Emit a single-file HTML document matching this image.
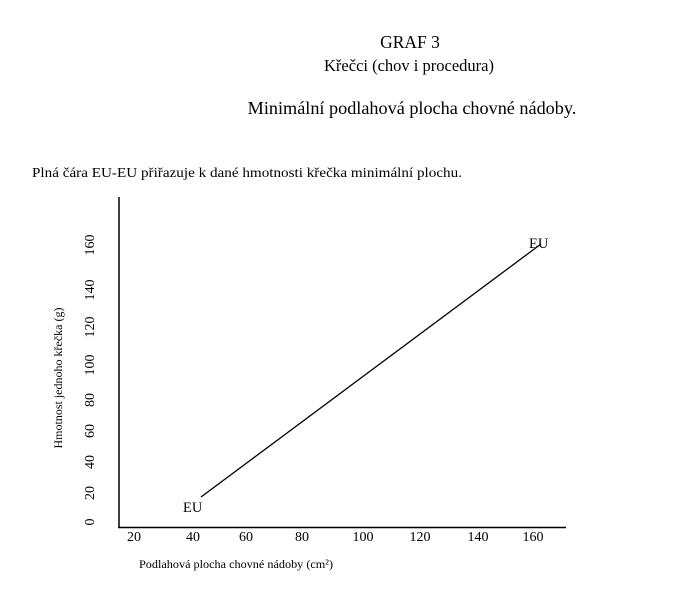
<!DOCTYPE html>
<html><head><meta charset="utf-8"><style>
body{margin:0;background:#fff;}
svg{display:block;font-family:"Liberation Serif",serif;}
</style></head><body>
<svg width="682" height="595" xmlns="http://www.w3.org/2000/svg">
<rect width="682" height="595" fill="#fff"/>
<text x="410" y="48" font-size="17.5" text-anchor="middle">GRAF 3</text>
<text x="409" y="71" font-size="16.5" text-anchor="middle">Křečci (chov i procedura)</text>
<text x="412" y="114" font-size="18.2" text-anchor="middle">Minimální podlahová plocha chovné nádoby.</text>
<text x="32" y="177" font-size="14" textLength="430" lengthAdjust="spacingAndGlyphs">Plná čára EU-EU přiřazuje k dané hmotnosti křečka minimální plochu.</text>
<line x1="119" y1="197" x2="119" y2="528" stroke="#000" stroke-width="1.5"/>
<line x1="118" y1="527.5" x2="566" y2="527.5" stroke="#000" stroke-width="1.5"/>
<line x1="201" y1="497" x2="541" y2="244" stroke="#000" stroke-width="1.3"/>
<text x="183" y="512" font-size="14.5">EU</text>
<text x="529" y="248" font-size="14.5">EU</text>
<g font-size="14" text-anchor="middle">
<text x="134" y="541">20</text><text x="193" y="541">40</text><text x="246" y="541">60</text><text x="302" y="541">80</text><text x="363" y="541">100</text><text x="420" y="541">120</text><text x="478" y="541">140</text><text x="533" y="541">160</text>
</g>
<g font-size="14" text-anchor="middle">
<text transform="translate(94,522) rotate(-90)">0</text>
<text transform="translate(94,493) rotate(-90)">20</text>
<text transform="translate(94,462) rotate(-90)">40</text>
<text transform="translate(94,431) rotate(-90)">60</text>
<text transform="translate(94,400) rotate(-90)">80</text>
<text transform="translate(94,365) rotate(-90)">100</text>
<text transform="translate(94,327) rotate(-90)">120</text>
<text transform="translate(94,290) rotate(-90)">140</text>
<text transform="translate(94,245) rotate(-90)">160</text>
</g>
<text transform="translate(62,378) rotate(-90)" font-size="12" text-anchor="middle">Hmotnost jednoho křečka (g)</text>
<text x="139" y="568" font-size="12" textLength="194" lengthAdjust="spacingAndGlyphs">Podlahová plocha chovné nádoby (cm²)</text>
</svg>
</body></html>
